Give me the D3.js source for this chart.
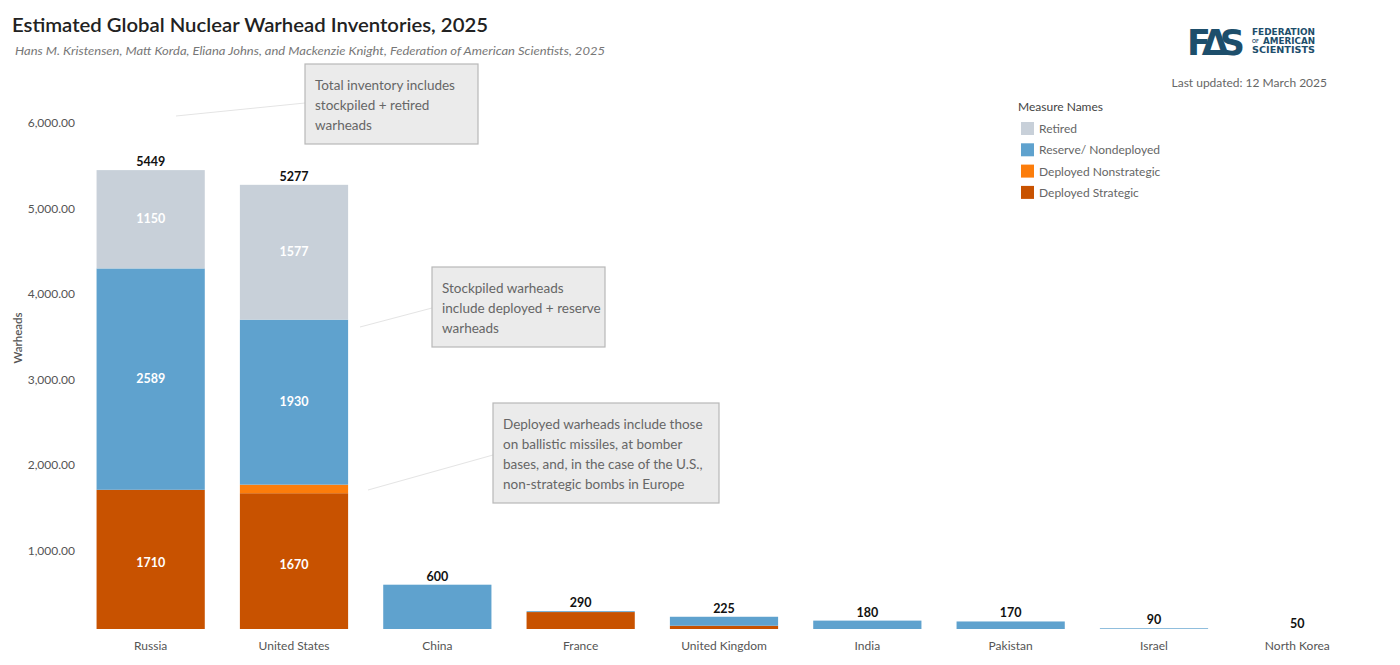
<!DOCTYPE html>
<html>
<head>
<meta charset="utf-8">
<script src="https://cdn.jsdelivr.net/npm/d3@7"></script>
<style>
  body { margin: 0; background: #fff; }
  svg { display: block; font-family: Lato, "Open Sans", sans-serif; }
</style>
</head>
<body>
<div id="chart"></div>
<script>
// Data
const countries = ["Russia", "United States", "China", "France", "United Kingdom", "India", "Pakistan", "Israel", "North Korea"];
const deployedStrategic = [1710, 1670, 0, 280, 120, 0, 0, 0, 0];
const deployedNonstrategic = [0, 100, 0, 0, 0, 0, 0, 0, 0];
const reserve = [2589, 1930, 600, 10, 105, 180, 170, 90, 50];
const retired = [1150, 1577, 0, 0, 0, 0, 0, 0, 0];
const yTicks = [1000, 2000, 3000, 4000, 5000, 6000];

const seriesNames = ["Deployed Strategic", "Deployed Nonstrategic", "Reserve/ Nondeployed", "Retired"];
const legendOrder = ["Retired", "Reserve/ Nondeployed", "Deployed Nonstrategic", "Deployed Strategic"];
const colors = {
  "Retired": "#c8d0d9",
  "Reserve/ Nondeployed": "#5fa2ce",
  "Deployed Nonstrategic": "#fc7d0b",
  "Deployed Strategic": "#c85200"
};

const rows = countries.map((c, i) => ({
  country: c,
  "Deployed Strategic": deployedStrategic[i],
  "Deployed Nonstrategic": deployedNonstrategic[i],
  "Reserve/ Nondeployed": reserve[i],
  "Retired": retired[i]
}));
const totals = rows.map(r => d3.sum(seriesNames, k => r[k]));

const W = 1400, H = 665;
const svg = d3.select("#chart").append("svg").attr("width", W).attr("height", H);

const x = d3.scaleBand().domain(countries).range([79, 1369]).paddingInner(0.245).paddingOuter(0.1225);
const y = d3.scaleLinear().domain([0, 6000]).range([636, 123]);
const plotBottom = 629;

svg.append("defs").append("clipPath").attr("id", "plotclip")
  .append("rect").attr("x", 0).attr("y", 0).attr("width", W).attr("height", plotBottom);

// Title + subtitle
svg.append("text").attr("x", 12).attr("y", 32)
  .attr("font-size", 20).attr("font-weight", 600).attr("fill", "#222")
  .attr("textLength", 476).attr("lengthAdjust", "spacingAndGlyphs")
  .text("Estimated Global Nuclear Warhead Inventories, 2025");
svg.append("text").attr("x", 15).attr("y", 55)
  .attr("font-size", 12).attr("font-style", "italic").attr("fill", "#777")
  .attr("textLength", 590).attr("lengthAdjust", "spacingAndGlyphs")
  .text("Hans M. Kristensen, Matt Korda, Eliana Johns, and Mackenzie Knight, Federation of American Scientists, 2025");

// Logo
const logo = svg.append("g").attr("fill", "#1d4e6b");
logo.append("text").attr("x", 1187).attr("y", 55).attr("font-size", 35).attr("font-weight", 700)
  .attr("font-family", "'DejaVu Sans', sans-serif").attr("letter-spacing", -1).attr("textLength", 57)
  .text("F\u0394S");
const smallLogo = { "font-size": 9.5, "font-weight": 700, "font-family": "'DejaVu Sans Condensed', 'DejaVu Sans', sans-serif" };
[["FEDERATION", 35], ["AMERICAN", 44], ["SCIENTISTS", 53]].forEach(([t, yy], i) => {
  const tx = logo.append("text").attr("x", i === 1 ? 1263 : 1252).attr("y", yy)
    .attr("textLength", i === 1 ? 52 : 63).attr("lengthAdjust", "spacingAndGlyphs").text(t);
  Object.entries(smallLogo).forEach(([k, v]) => tx.attr(k, v));
});
logo.append("text").attr("x", 1252).attr("y", 43).attr("font-size", 5).attr("font-weight", 700).text("OF");

svg.append("text").attr("x", 1327).attr("y", 87).attr("text-anchor", "end")
  .attr("font-size", 12).attr("fill", "#666").text("Last updated: 12 March 2025");

// Legend
const legend = svg.append("g").attr("transform", "translate(1018,0)");
legend.append("text").attr("x", 0).attr("y", 111).attr("font-size", 12).attr("fill", "#444").text("Measure Names");
legendOrder.forEach((name, i) => {
  const g = legend.append("g").attr("transform", `translate(3,${122 + i * 21.3})`);
  g.append("rect").attr("width", 13).attr("height", 13).attr("fill", colors[name]);
  g.append("text").attr("x", 18).attr("y", 11).attr("font-size", 12).attr("fill", "#666").text(name);
});

// Y axis
const yAxis = svg.append("g").attr("transform", "translate(75,0)")
  .call(d3.axisLeft(y).tickValues(yTicks).tickSize(0).tickPadding(0).tickFormat(d3.format(",.2f")));
yAxis.select(".domain").remove();
yAxis.selectAll("text").attr("font-size", 12).attr("fill", "#555").attr("font-family", "Lato, sans-serif");
svg.append("text").attr("transform", "translate(22,338) rotate(-90)")
  .attr("text-anchor", "middle").attr("font-size", 11.5).attr("font-weight", 600).attr("fill", "#555")
  .text("Warheads");

// X axis labels
const xAxis = svg.append("g").attr("transform", `translate(0,${plotBottom + 4})`)
  .call(d3.axisBottom(x).tickSize(0).tickPadding(8));
xAxis.select(".domain").remove();
xAxis.selectAll("text").attr("font-size", 12).attr("fill", "#555").attr("font-family", "Lato, sans-serif");

// Annotation leader lines + boxes
const notes = [
  { lines: ["Total inventory includes", "stockpiled + retired", "warheads"], bx: 305, by: 64, bw: 173, bh: 80, from: [176, 116], to: [305, 103] },
  { lines: ["Stockpiled warheads", "include deployed + reserve", "warheads"], bx: 432, by: 267, bw: 173, bh: 80, from: [360, 327], to: [432, 308] },
  { lines: ["Deployed warheads include those", "on ballistic missiles, at bomber", "bases, and, in the case of the U.S.,", "non-strategic bombs in Europe"], bx: 493, by: 403, bw: 226, bh: 100, from: [368, 490], to: [493, 455] }
];

// Stacked bars
const stack = d3.stack().keys(seriesNames);
const stacked = stack(rows);
const plot = svg.append("g").attr("clip-path", "url(#plotclip)");
plot.selectAll("g.series").data(stacked).join("g").attr("class", "series")
  .attr("fill", d => colors[d.key])
  .selectAll("rect").data(d => d).join("rect")
  .attr("x", d => x(d.data.country))
  .attr("width", x.bandwidth())
  .attr("y", d => y(d[1]))
  .attr("height", d => Math.max(0, y(d[0]) - y(d[1])));

// Segment labels (only on tall segments)
stacked.forEach(s => {
  s.forEach(d => {
    const v = d[1] - d[0];
    if (y(d[0]) - y(d[1]) < 80) return;
    svg.append("text")
      .attr("x", x(d.data.country) + x.bandwidth() / 2)
      .attr("y", (y(d[0]) + y(d[1])) / 2 + 4)
      .attr("text-anchor", "middle").attr("font-size", 12.5).attr("font-weight", 700)
      .attr("fill", "#fff").text(v);
  });
});

// Total labels
svg.selectAll("text.total").data(countries).join("text").attr("class", "total")
  .attr("x", d => x(d) + x.bandwidth() / 2)
  .attr("y", (d, i) => y(totals[i]) - 4)
  .attr("text-anchor", "middle").attr("font-size", 12.5).attr("font-weight", 700).attr("fill", "#111")
  .text((d, i) => totals[i]);

notes.forEach(n => {
  svg.append("line").attr("x1", n.from[0]).attr("y1", n.from[1]).attr("x2", n.to[0]).attr("y2", n.to[1])
    .attr("stroke", "#e4e4e4").attr("stroke-width", 1);
  svg.append("rect").attr("x", n.bx).attr("y", n.by).attr("width", n.bw).attr("height", n.bh)
    .attr("fill", "#ebebeb").attr("stroke", "#b8b8b8").attr("stroke-width", 1.2);
  n.lines.forEach((t, i) => {
    svg.append("text").attr("x", n.bx + 10).attr("y", n.by + 26 + i * 20)
      .attr("font-size", 13.5).attr("fill", "#666").text(t);
  });
});
</script>
</body>
</html>
